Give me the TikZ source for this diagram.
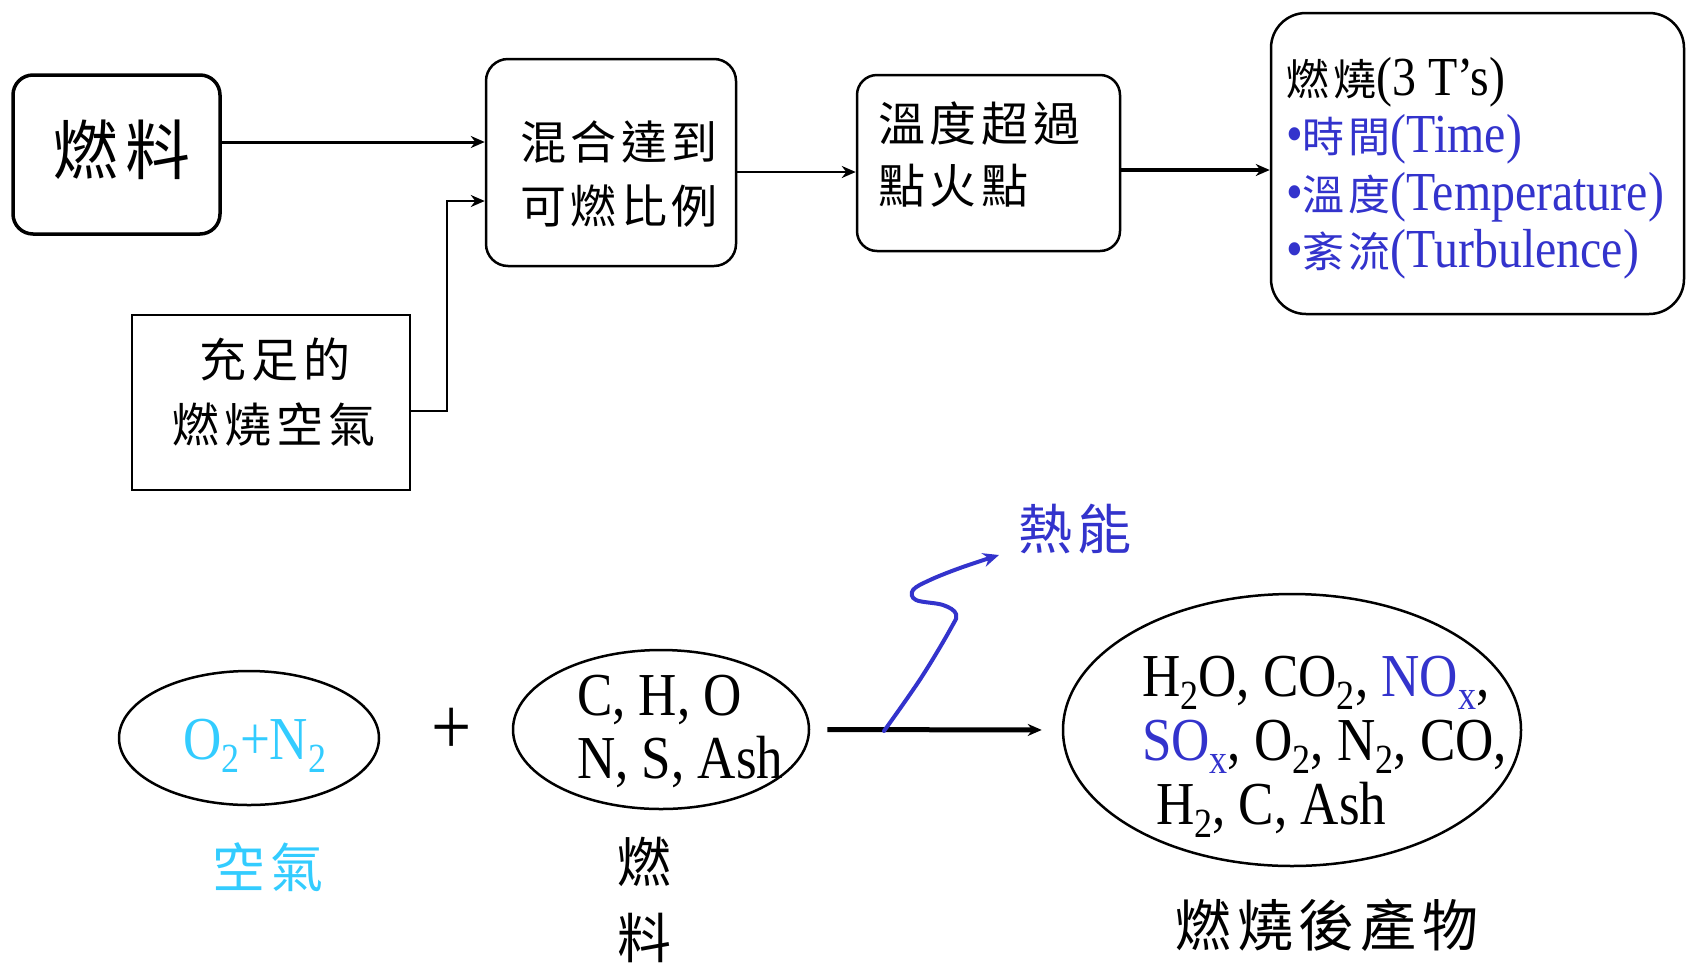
\documentclass[tikz,border=0pt]{standalone}
\usepackage{fontspec}
\setmainfont{Liberation Serif}[FakeStretch=0.87]
\newfontfamily\cjk{Noto Sans CJK TC}[LetterSpace=10]
\usetikzlibrary{shapes.geometric,arrows.meta}
\definecolor{tblue}{HTML}{3333CC}
\definecolor{tcyan}{HTML}{33CCFF}
\newcommand\fs[1]{\fontsize{#1}{#1}\selectfont}
\newcommand\subsc[1]{\raisebox{-0.22em}{\scalebox{0.68}{#1}}}
\begin{document}
\begin{tikzpicture}[x=1pt,y=-1pt,
  box/.style={draw, line width=2.5, rounded corners=20, inner sep=0},
  ell/.style={draw, ellipse, line width=2.5, inner sep=0},
  arr/.style={-{Stealth[length=14,width=12]}, line width=2.5},
  txt/.style={inner sep=0, outer sep=0},
  heat/.style={draw=tblue, line width=4, line cap=round, -{Stealth[length=16,width=14]}}]
\useasboundingbox (0,0) rectangle (1686,967);
% boxes
\node[box, line width=3.5, minimum width=207, minimum height=159] (fuel) at (116.5,154.5) {};
\node[box, minimum width=250, minimum height=207, rounded corners=22] (mix) at (611,162.5) {};
\node[box, minimum width=263, minimum height=176] (temp) at (988.5,163) {};
\node[box, minimum width=413, minimum height=301, rounded corners=35] (comb) at (1477.5,163.5) {};
\node[draw, line width=2.5, inner sep=0, minimum width=278, minimum height=175] (air) at (271,402.5) {};
% box texts
\node[txt] (tfuel) at (122,150) {\cjk\fs{65}燃料};
\node[txt] (tmix1) at (619,142) {\cjk\fs{46}混合達到};
\node[txt] (tmix2) at (619,206) {\cjk\fs{46}可燃比例};
\node[txt, anchor=west] (ttemp1) at (878,124) {\cjk\fs{47}溫度超過};
\node[txt, anchor=west] (ttemp2) at (878,186) {\cjk\fs{47}點火點};
\node[txt] (tair1) at (275,360) {\cjk\fs{47}充足的};
\node[txt] (tair2) at (274,425) {\cjk\fs{47}燃燒空氣};
\node[txt, anchor=base west] (tc1) at (1286,95) {\fs{55}{\cjk\fs{43}燃燒}(3 T’s)};
\node[txt, anchor=base west, text=tblue] (tc2) at (1286,152) {\fs{55}\textbullet{\cjk\fs{42}時間}(Time)};
\node[txt, anchor=base west, text=tblue] (tc3) at (1286,210) {\fs{55}\textbullet{\cjk\fs{42}溫度}(Temperature)};
\node[txt, anchor=base west, text=tblue] (tc4) at (1286,267) {\fs{55}\textbullet{\cjk\fs{42}紊流}(Turbulence)};
% top connectors
\draw[arr, line width=3] (fuel.east |- 0,142) -- (mix.west |- 0,142);
\draw[arr] (air.east |- 0,411) -| (447,201) -- (mix.west |- 0,201);
\draw[arr] (mix.east |- 0,172) -- (temp.west |- 0,172);
\draw[arr, line width=4] (temp.east |- 0,170) -- (comb.west |- 0,170);
% bottom
\node[ell, minimum width=260, minimum height=134] (oxy) at (249,738) {};
\node[ell, minimum width=296, minimum height=159] (cho) at (661,729.5) {};
\node[ell, minimum width=458, minimum height=272] (prod) at (1292,730) {};
\node[txt, anchor=base, text=tcyan] (ton) at (255,759) {\fs{61}O\subsc{2}+N\subsc{2}};
\node[txt, anchor=base] (plus) at (452,754) {\fs{82}+};
\node[txt, anchor=base west] (tcho1) at (577,715) {\fs{61}C, H, O};
\node[txt, anchor=base west] (tcho2) at (577,778) {\fs{61}N, S, Ash};
\node[txt, anchor=base west] (tp1) at (1142,696) {\fs{61}H\subsc{2}O, CO\subsc{2}, \textcolor{tblue}{NO\subsc{x}},};
\node[txt, anchor=base west] (tp2) at (1142,760) {\fs{61}\textcolor{tblue}{SO\subsc{x}}, O\subsc{2}, N\subsc{2}, CO,};
\node[txt, anchor=base west] (tp3) at (1156,824) {\fs{61}H\subsc{2}, C, Ash};
\node[txt, text=tcyan] (tkq) at (268,867) {\cjk\fs{53}空氣};
\node[txt] (tf1) at (644,862) {\cjk\fs{54}燃};
\node[txt] (tf2) at (644,938) {\cjk\fs{54}料};
\node[txt] (tprod) at (1327,925) {\cjk\fs{56}燃燒後產物};
\node[txt, text=tblue] (theat) at (1075,529) {\cjk\fs{54}熱能};
\draw[arr, line width=5, shorten <=17, shorten >=20] (cho.east) -- (prod.west);
\coordinate (hs) at (884,731);
\draw[heat] plot[smooth, tension=0.6] coordinates {(hs) (921,678) (951,628) (956,614) (943,605) (916,600) (913,590) (930,580) (960,568) (999,555)};
\end{tikzpicture}
\end{document}
